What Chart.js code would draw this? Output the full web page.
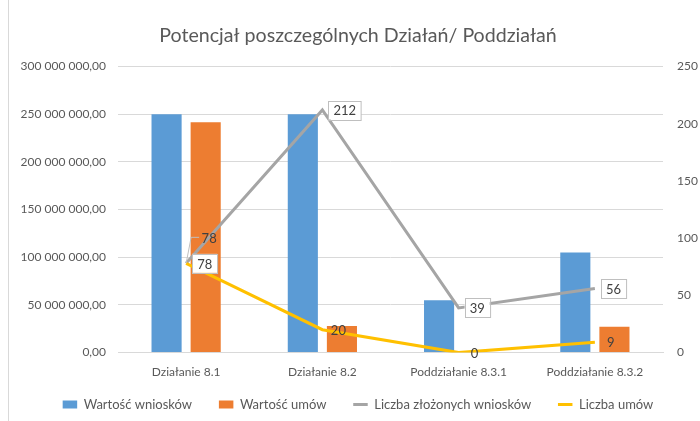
<!DOCTYPE html>
<html>
<head>
<meta charset="utf-8">
<script src="https://cdn.jsdelivr.net/npm/chart.js@4/dist/chart.umd.min.js"></script>
<style>
  html, body { margin: 0; padding: 0; background: #fff; }
  #wrap { position: relative; width: 700px; height: 421px; }
  #frame { position: absolute; left: 8px; top: 0; width: 1px; height: 421px; background: #d9d9d9; }
  canvas { position: absolute; left: 0; top: 0; }
</style>
</head>
<body>
<div id="wrap">
  <div id="frame"></div>
  <canvas id="potentialChart" width="700" height="421"></canvas>
</div>
<script>
const categories = ["Działanie 8.1", "Działanie 8.2", "Poddziałanie 8.3.1", "Poddziałanie 8.3.2"];
const wartoscWnioskow = [250000000, 250000000, 55000000, 105000000];
const wartoscUmow = [241500000, 28000000, 0, 27000000];
const liczbaWnioskow = [78, 212, 39, 56];
const liczbaUmow = [78, 20, 0, 9];

const textColor = "#595959";
const fontFamily = "Lato, 'Open Sans', sans-serif";

function formatPln(value) {
  const parts = Number(value).toFixed(2).split(".");
  parts[0] = parts[0].replace(/\B(?=(\d{3})+(?!\d))/g, " ");
  return parts.join(",");
}

// data labels for the two line series
const lineLabels = {
  id: "lineLabels",
  afterDatasetsDraw(chart) {
    const ctx = chart.ctx;
    ctx.save();
    ctx.font = "13px " + fontFamily;
    ctx.textBaseline = "middle";
    ctx.fillStyle = "#404040";

    // Liczba złożonych wniosków - boxed labels
    const grey = chart.getDatasetMeta(2);
    grey.data.forEach((pt, i) => {
      const text = String(liczbaWnioskow[i]);
      const w = ctx.measureText(text).width + 10;
      const h = 19;
      const x = pt.x + 6;
      const y = pt.y - h / 2;
      ctx.fillStyle = "#fff";
      ctx.fillRect(x, y, w, h);
      ctx.strokeStyle = "#bfbfbf";
      ctx.lineWidth = 1;
      ctx.strokeRect(Math.round(x) + 0.5, Math.round(y) + 0.5, w, h);
      ctx.fillStyle = "#404040";
      ctx.textAlign = "left";
      ctx.fillText(text, x + 5, pt.y + 1);
    });

    // Liczba umów - plain labels
    const yellow = chart.getDatasetMeta(3);
    yellow.data.forEach((pt, i) => {
      const text = String(liczbaUmow[i]);
      ctx.textAlign = "center";
      if (i === 0) {
        // moved up with a leader line, like the original
        ctx.strokeStyle = "#bfbfbf";
        ctx.lineWidth = 1;
        ctx.beginPath();
        ctx.moveTo(pt.x, pt.y);
        ctx.lineTo(pt.x + 5, pt.y - 26);
        ctx.lineTo(pt.x + 13, pt.y - 26);
        ctx.stroke();
        ctx.fillText(text, pt.x + 23, pt.y - 25);
      } else {
        ctx.fillText(text, pt.x + 16, pt.y + 1);
      }
    });
    ctx.restore();
  },
};

const legendDefault = Chart.defaults.plugins.legend.labels.generateLabels;

new Chart(document.getElementById("potentialChart"), {
  type: "bar",
  data: {
    labels: categories,
    datasets: [
      {
        label: "Wartość wniosków",
        data: wartoscWnioskow,
        backgroundColor: "#5b9bd5",
        yAxisID: "y",
        order: 3,
        pointStyle: "rect",
      },
      {
        label: "Wartość umów",
        data: wartoscUmow,
        backgroundColor: "#ed7d31",
        yAxisID: "y",
        order: 4,
        pointStyle: "rect",
      },
      {
        type: "line",
        label: "Liczba złożonych wniosków",
        data: liczbaWnioskow,
        borderColor: "#a5a5a5",
        backgroundColor: "#a5a5a5",
        borderWidth: 3,
        pointRadius: 0,
        tension: 0,
        yAxisID: "y1",
        order: 2,
        pointStyle: "line",
      },
      {
        type: "line",
        label: "Liczba umów",
        data: liczbaUmow,
        borderColor: "#ffc000",
        backgroundColor: "#ffc000",
        borderWidth: 3,
        pointRadius: 0,
        tension: 0,
        yAxisID: "y1",
        order: 1,
        pointStyle: "line",
      },
    ],
  },
  options: {
    responsive: false,
    animation: false,
    datasets: {
      bar: { categoryPercentage: 0.574, barPercentage: 0.77 },
    },
    layout: { padding: { left: 16, right: 0, top: 0, bottom: 0 } },
    scales: {
      x: {
        grid: { display: false, drawTicks: false },
        border: { color: "#d9d9d9" },
        afterFit: (scale) => { scale.height -= 10; },
        ticks: { color: textColor, font: { family: fontFamily, size: 12 }, padding: 12 },
      },
      y: {
        position: "left",
        min: 0,
        max: 300000000,
        grid: { color: "#d9d9d9", drawTicks: false },
        border: { display: false },
        afterFit: (scale) => { scale.width = 102; },
        ticks: {
          stepSize: 50000000,
          color: textColor,
          font: { family: fontFamily, size: 12 },
          padding: 12,
          callback: (v) => formatPln(v),
        },
      },
      y1: {
        position: "right",
        min: 0,
        max: 250,
        grid: { display: false, drawTicks: false },
        border: { display: false },
        afterFit: (scale) => { scale.width = 37; },
        ticks: {
          stepSize: 50,
          color: textColor,
          font: { family: fontFamily, size: 12 },
          padding: 14,
        },
      },
    },
    plugins: {
      title: {
        display: true,
        text: "Potencjał poszczególnych Działań/ Poddziałań",
        color: textColor,
        font: { family: fontFamily, size: 19.6, weight: "normal" },
        padding: { top: 24, bottom: 19 },
      },
      legend: {
        position: "bottom",
        labels: {
          usePointStyle: true,
          pointStyleWidth: 14.5,
          boxHeight: 8,
          padding: 17,
          color: textColor,
          font: { family: fontFamily, size: 13 },
          sort: (a, b) => a.datasetIndex - b.datasetIndex,
          generateLabels(chart) {
            const items = legendDefault(chart).sort((a, b) => a.datasetIndex - b.datasetIndex);
            return items.map((item, i) => {
              const ds = chart.data.datasets[item.datasetIndex];
              item.pointStyle = ds.pointStyle;
              item.lineWidth = ds.type === "line" ? 3 : 0;
              item.strokeStyle = ds.borderColor || ds.backgroundColor;
              // a bit more room between items, like in the original legend
              if (i < items.length - 1) item.text += " \u2002";
              return item;
            });
          },
        },
      },
      tooltip: { enabled: false },
    },
  },
  plugins: [lineLabels],
});
</script>
</body>
</html>
